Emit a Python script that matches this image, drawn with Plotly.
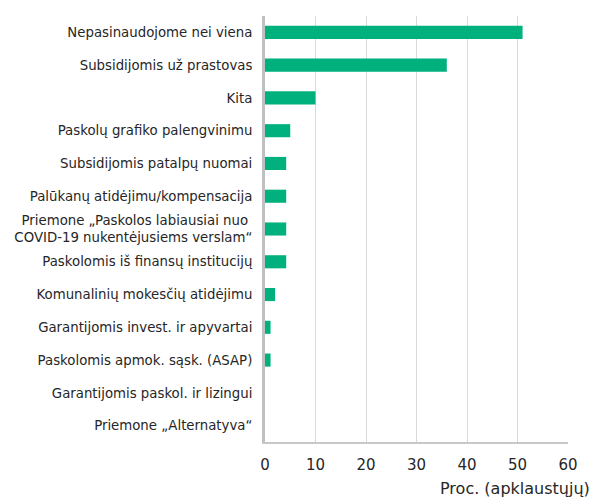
import plotly.graph_objects as go

categories = [
    "Nepasinaudojome nei viena",
    "Subsidijomis už prastovas",
    "Kita",
    "Paskolų grafiko palengvinimu",
    "Subsidijomis patalpų nuomai",
    "Palūkanų atidėjimu/kompensacija",
    "Priemone „Paskolos labiausiai nuo <br>COVID-19 nukentėjusiems verslam“",
    "Paskolomis iš finansų institucijų",
    "Komunalinių mokesčių atidėjimu",
    "Garantijomis invest. ir apyvartai",
    "Paskolomis apmok. sąsk. (ASAP)",
    "Garantijomis paskol. ir lizingui",
    "Priemone „Alternatyva“",
]
values = [51, 36, 10, 5, 4.2, 4.2, 4.2, 4.2, 2, 1.1, 1.1, 0, 0]
x_ticks = [0, 10, 20, 30, 40, 50, 60]
x_title = "Proc. (apklaustųjų)"

fig = go.Figure(go.Bar(
    y=categories, x=values, orientation="h",
    marker=dict(color="#00b17e", line=dict(width=0)),
))

fig.update_layout(
    width=595, height=498,
    margin=dict(l=265, r=27, t=16, b=56),
    paper_bgcolor="white", plot_bgcolor="white",
    bargap=0.6,
    showlegend=False,
    font=dict(family="DejaVu Sans", color="#262626", size=13),
)
fig.update_xaxes(
    range=[0, 60], tickvals=x_ticks, showgrid=True, gridcolor="#d9d9d9", gridwidth=1,
    showline=True, linecolor="#c8c8c8", linewidth=2,
    ticks="outside", ticklen=8, tickcolor="rgba(0,0,0,0)",
    tickfont=dict(size=15), zeroline=False, automargin=False,
)
fig.update_yaxes(
    autorange="reversed", showline=True, linecolor="#c0c0c0", linewidth=3,
    ticks="outside", ticklen=7, tickcolor="rgba(0,0,0,0)",
    tickfont=dict(size=13.3), showgrid=False, automargin=False,
)
fig.add_annotation(
    text=x_title, xref="paper", yref="paper", x=1.08, y=0, yshift=-46,
    xanchor="right", yanchor="middle", showarrow=False, font=dict(size=16),
)
fig.write_html("out.html", config={"displayModeBar": False},
               post_script="document.body.style.margin='0';document.body.style.overflow='hidden';")
